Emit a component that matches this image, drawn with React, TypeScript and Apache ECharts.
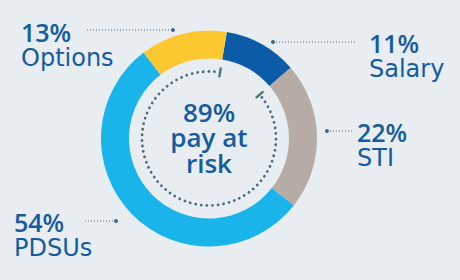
import React, { useEffect, useRef } from "react";
import * as echarts from "echarts";

const categories = ["Salary", "STI", "PDSUs", "Options"];
const values = [11, 22, 54, 13];
const colors = ["#0b5ba8", "#b6aca5", "#19b4ea", "#fdc82f"];
const centerLines = ["89%", "pay at", "risk"];

// label layout (annotation positions)
const labelPos: Record<string, { x: number; y: number; lx1: number; lx2: number; ly: number; dotX: number }> = {
  Salary: { x: 369, y: 30, lx1: 273, lx2: 355, ly: 42, dotX: 273 },
  STI: { x: 357, y: 119, lx1: 327, lx2: 352, ly: 131, dotX: 327 },
  PDSUs: { x: 14, y: 209, lx1: 85, lx2: 116, ly: 221, dotX: 116 },
  Options: { x: 21, y: 19, lx1: 87, lx2: 173, ly: 30, dotX: 173 },
};

const CX = 209;
const CY = 138.5;
const START = 80.5;
const TEXT = "#155c9f";
const FONT = "'Open Sans', 'Noto Sans', sans-serif";
const NAME_FONT = "'DejaVu Sans', sans-serif";

export default function App() {
  const ref = useRef<HTMLDivElement>(null);
  useEffect(() => {
    document.body.style.margin = "0";
    const chart = echarts.init(ref.current!, null, { renderer: "svg" });
    const total = values.reduce((a, b) => a + b, 0);
    const salaryDeg = (values[0] / total) * 360;
    const a0 = START; // math deg
    const a1 = START - salaryDeg;
    const rad = (d: number) => (d * Math.PI) / 180;
    const graphic: any[] = [];
    graphic.push({
      type: "arc",
      silent: true,
      shape: { cx: CX, cy: CY, r: 67, startAngle: rad(-a1 + 3), endAngle: rad(-a0 + 360 - 3), clockwise: true },
      style: { stroke: "#4b6a80", lineWidth: 2.8, lineDash: [0.01, 5.6], lineCap: "round", fill: "none" },
    });
    [a0, a1].forEach((a) => {
      const c = Math.cos(rad(a));
      const s = -Math.sin(rad(a));
      graphic.push({
        type: "line",
        silent: true,
        shape: { x1: CX + c * 62, y1: CY + s * 62, x2: CX + c * 72, y2: CY + s * 72 },
        style: { stroke: "#4f7a70", lineWidth: 2.4 },
      });
    });
    categories.forEach((name, i) => {
      const p = labelPos[name];
      graphic.push({
        type: "line",
        silent: true,
        shape: { x1: p.lx1, y1: p.ly, x2: p.lx2, y2: p.ly },
        style: { stroke: "#4b6a80", lineWidth: 1.2, lineDash: [1, 2] },
      });
      graphic.push({
        type: "circle",
        silent: true,
        shape: { cx: p.dotX, cy: p.ly, r: 2 },
        style: { fill: "#4b6a80" },
      });
      graphic.push({
        type: "text",
        silent: true,
        x: p.x,
        y: p.y,
        style: {
          text: `{p|${values[i]}%}\n{n|${name}}`,
          fill: TEXT,
          textAlign: "left",
          align: "left",
          textVerticalAlign: "top",
          verticalAlign: "top",
          rich: {
            p: { font: `600 25px ${FONT}`, fill: TEXT, lineHeight: 26 },
            n: { font: `400 24px ${NAME_FONT}`, fill: TEXT, lineHeight: 26 },
          },
        },
      });
    });
    graphic.push({
      type: "text",
      silent: true,
      x: CX,
      y: 99,
      style: {
        text: centerLines.join("\n"),
        font: `600 26px ${FONT}`,
        lineHeight: 25.5,
        fill: TEXT,
        textAlign: "center",
        align: "center",
        textVerticalAlign: "top",
        verticalAlign: "top",
      },
    });

    chart.setOption({
      animation: false,
      backgroundColor: "#e8edf2",
      series: [
        {
          type: "pie",
          silent: true,
          center: [CX, CY],
          radius: [80, 108],
          startAngle: START,
          clockwise: true,
          label: { show: false },
          labelLine: { show: false },
          emphasis: { disabled: true },
          data: categories.map((n, i) => ({ name: n, value: values[i], itemStyle: { color: colors[i] } })),
        },
      ],
      graphic,
    });
    return () => chart.dispose();
  }, []);
  return <div ref={ref} style={{ width: 460, height: 280, position: "fixed", left: 0, top: 0 }} />;
}
